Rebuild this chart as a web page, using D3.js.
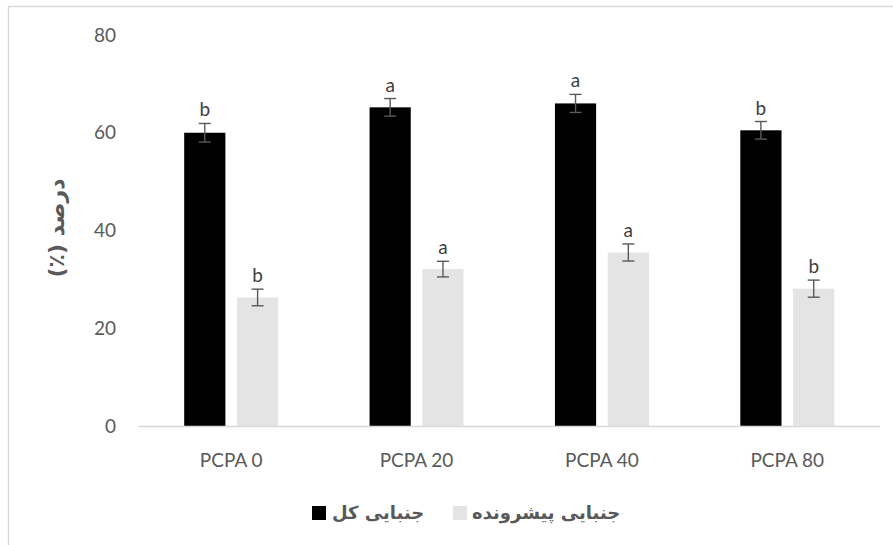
<!DOCTYPE html>
<html>
<head>
<meta charset="utf-8">
<script src="https://cdn.jsdelivr.net/npm/d3@7"></script>
<style>
  body { margin: 0; background: #fff; }
  svg { display: block; }
  text { font-family: Lato, "Open Sans", "DejaVu Sans", sans-serif; }
</style>
</head>
<body>
<script>
var categories  = ["PCPA 0", "PCPA 20", "PCPA 40", "PCPA 80"];
var seriesNames = ["جنبایی کل", "جنبایی پیشرونده"];
var totalVals   = [60.0, 65.2, 66.0, 60.5];
var totalErr    = [1.9, 1.8, 1.85, 1.8];
var totalLetter = ["b", "a", "a", "b"];
var progVals    = [26.3, 32.1, 35.5, 28.1];
var progErr     = [1.7, 1.6, 1.75, 1.75];
var progLetter  = ["b", "a", "a", "b"];
var yTicks      = [0, 20, 40, 60, 80];
var colors      = ["#000000", "#e4e4e4"];

var width = 893, height = 545;
var svg = d3.select("body").append("svg")
    .attr("width", width)
    .attr("height", height);

// chart frame
svg.append("rect")
   .attr("x", 8.5).attr("y", 6.5)
   .attr("width", 1000).attr("height", 1000)
   .attr("fill", "none")
   .attr("stroke", "#d9d9d9")
   .attr("stroke-width", 1.5);

var x0 = d3.scaleBand()
    .domain(categories)
    .range([138.5, 880])
    .paddingInner(0)
    .paddingOuter(0);

var x1 = d3.scaleBand()
    .domain([0, 1])
    .range([x0.bandwidth() / 2 - 47, x0.bandwidth() / 2 + 47])
    .paddingInner(0.22)
    .paddingOuter(0);

var y = d3.scaleLinear()
    .domain([0, 80])
    .range([426, 35]);

var series = [
    { vals: totalVals, err: totalErr, letter: totalLetter },
    { vals: progVals,  err: progErr,  letter: progLetter  }
];

var rows = [];
series.forEach((s, si) => {
    categories.forEach((c, ci) => {
        rows.push({ s: si, cat: c, v: s.vals[ci], e: s.err[ci], l: s.letter[ci] });
    });
});

// y tick labels
svg.append("g")
   .selectAll("text")
   .data(yTicks)
   .enter().append("text")
   .attr("x", 116)
   .attr("y", (d) => y(d))
   .attr("dy", "0.35em")
   .attr("text-anchor", "end")
   .attr("font-size", 19)
   .attr("fill", "#595959")
   .text((d) => d);

// bars
var cx = (d) => x0(d.cat) + x1(d.s) + x1.bandwidth() / 2;

svg.append("g")
   .selectAll("rect")
   .data(rows)
   .enter().append("rect")
   .attr("x", (d) => x0(d.cat) + x1(d.s))
   .attr("y", (d) => y(d.v))
   .attr("width", x1.bandwidth())
   .attr("height", (d) => y(0) - y(d.v))
   .attr("fill", (d) => colors[d.s]);

// x axis line
svg.append("line")
   .attr("x1", x0.range()[0]).attr("x2", x0.range()[1])
   .attr("y1", y(0) + 0.5).attr("y2", y(0) + 0.5)
   .attr("stroke", "#d9d9d9")
   .attr("stroke-width", 1.5);

// error bars
var eb = svg.append("g")
    .attr("stroke", "#595959")
    .attr("stroke-width", 1.4)
    .selectAll("g")
    .data(rows)
    .enter().append("g");

eb.append("line")
  .attr("x1", cx).attr("x2", cx)
  .attr("y1", (d) => y(d.v + d.e)).attr("y2", (d) => y(d.v - d.e));
eb.append("line")
  .attr("x1", (d) => cx(d) - 6).attr("x2", (d) => cx(d) + 6)
  .attr("y1", (d) => y(d.v + d.e)).attr("y2", (d) => y(d.v + d.e));
eb.append("line")
  .attr("x1", (d) => cx(d) - 6).attr("x2", (d) => cx(d) + 6)
  .attr("y1", (d) => y(d.v - d.e)).attr("y2", (d) => y(d.v - d.e));

// significance letters
svg.append("g")
   .selectAll("text")
   .data(rows)
   .enter().append("text")
   .attr("x", cx)
   .attr("y", (d) => y(d.v + d.e) - 7)
   .attr("text-anchor", "middle")
   .attr("font-size", 19)
   .attr("fill", "#404040")
   .text((d) => d.l);

// category labels
svg.append("g")
   .selectAll("text")
   .data(categories)
   .enter().append("text")
   .attr("x", (d) => x0(d) + x0.bandwidth() / 2)
   .attr("y", 460)
   .attr("dy", "0.35em")
   .attr("text-anchor", "middle")
   .attr("font-size", 19)
   .attr("fill", "#595959")
   .text((d) => d);

// y axis title
svg.append("text")
   .attr("transform", "translate(56,228) rotate(-90)")
   .attr("text-anchor", "middle")
   .attr("direction", "rtl")
   .attr("dy", "0.35em")
   .attr("font-size", 22)
   .attr("font-weight", "bold")
   .attr("fill", "#595959")
   .attr("style", "font-family: 'DejaVu Sans', sans-serif")
   .text("درصد (٪)");

// legend
var legendPos = [{ box: 312, txt: 332 }, { box: 453, txt: 472 }];
var lg = svg.append("g")
    .selectAll("g")
    .data(seriesNames)
    .enter().append("g");

lg.append("rect")
  .attr("x", (d, i) => legendPos[i].box)
  .attr("y", 506)
  .attr("width", 14).attr("height", 14)
  .attr("fill", (d, i) => colors[i]);

lg.append("text")
  .attr("x", (d, i) => legendPos[i].txt)
  .attr("y", 513)
  .attr("dy", "0.35em")
  .attr("text-anchor", "start")
  .attr("font-size", 18)
  .attr("font-weight", "bold")
  .attr("fill", "#595959")
  .attr("style", "font-family: 'DejaVu Sans', sans-serif")
  .text((d) => d);
</script>
</body>
</html>
